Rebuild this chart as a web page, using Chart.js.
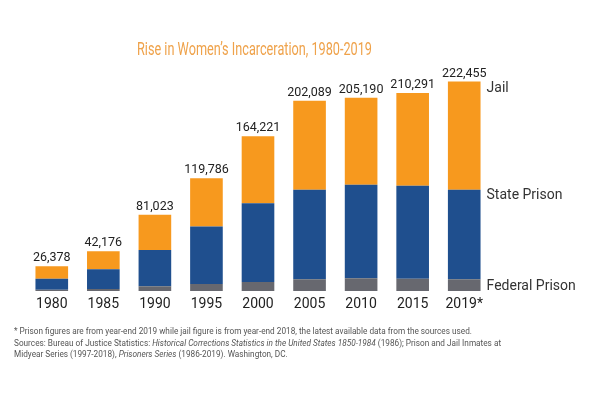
<!DOCTYPE html>
<html lang="en">
<head>
    <meta charset="UTF-8">
    <title>Rise in Women's Incarceration, 1980-2019</title>
    <script src="https://cdn.jsdelivr.net/npm/chart.js"></script>
    <style>
        html, body { margin: 0; padding: 0; background: #fff; }
        .wrap { position: relative; width: 600px; height: 400px; }
        .note {
            position: absolute; left: 14px; top: 325px; width: 680px;
            font-family: Roboto, sans-serif; font-size: 9.8px; line-height: 11.7px; color: #555;
            transform: scaleX(0.84); transform-origin: left top; white-space: nowrap;
        }
    </style>
</head>
<body>
    <div class="wrap">
        <canvas id="chart" width="600" height="400"></canvas>
        <div class="note">
            * Prison figures are from year-end 2019 while jail figure is from year-end 2018, the latest available data from the sources used.<br>
            Sources: Bureau of Justice Statistics: <i>Historical Corrections Statistics in the United States 1850-1984</i> (1986); Prison and Jail Inmates at<br>
            Midyear Series (1997-2018), <i>Prisoners Series</i> (1986-2019). Washington, DC.
        </div>
    </div>

    <script>
        // data
        const years = ['1980', '1985', '1990', '1995', '2000', '2005', '2010', '2015', '2019*'];
        const federal = [1400, 2100, 5000, 7400, 9600, 12400, 13500, 13000, 12600];
        const state = [11700, 21000, 38600, 61000, 83600, 95000, 99200, 98900, 94800];
        const jail = [13278, 19076, 37423, 51386, 71021, 94689, 92490, 98391, 115055];
        const seriesNames = ['Federal Prison', 'State Prison', 'Jail'];

        const colors = ['#67686f', '#1f4f8e', '#f7991e'];

        // totals on top, series names at the right, year labels below
        const textPlugin = {
            id: 'texts',
            afterDatasetsDraw(chart) {
                const ctx = chart.ctx;
                const x = chart.scales.x;
                const y = chart.scales.y;
                ctx.save();

                // title, narrow like the original
                ctx.font = '18px Roboto';
                ctx.fillStyle = '#efa24a';
                ctx.textAlign = 'center';
                ctx.textBaseline = 'middle';
                const title = "Rise in Women\u2019s Incarceration, 1980-2019";
                const w = ctx.measureText(title).width;
                ctx.save();
                ctx.translate(254.5, 50);
                ctx.scale(235 / w, 1);
                ctx.fillText(title, 0, 0);
                ctx.restore();

                ctx.fillStyle = '#222';
                years.forEach((yr, i) => {
                    const cx = x.getPixelForValue(i);
                    const total = federal[i] + state[i] + jail[i];
                    ctx.font = '12.5px Roboto';
                    ctx.textBaseline = 'alphabetic';
                    ctx.fillText(total.toLocaleString('en-US'), cx, y.getPixelForValue(total) - 5);
                    ctx.font = '14px Roboto';
                    ctx.textBaseline = 'middle';
                    ctx.fillText(yr, cx, 304);
                });

                // series names next to the last bar
                const last = years.length - 1;
                const meta = chart.getDatasetMeta(2).data[last];
                const lx = meta.x + meta.width / 2 + 6;
                ctx.textAlign = 'left';
                ctx.textBaseline = 'middle';
                ctx.font = '14px Roboto';
                ctx.fillStyle = '#333';
                ctx.fillText(seriesNames[2], lx, 88);
                ctx.fillText(seriesNames[1], lx, 195);
                ctx.fillText(seriesNames[0], lx, 286);
                ctx.restore();
            }
        };

        new Chart(document.getElementById('chart'), {
            type: 'bar',
            data: {
                labels: years,
                datasets: [
                    { label: seriesNames[0], data: federal, backgroundColor: colors[0] },
                    { label: seriesNames[1], data: state, backgroundColor: colors[1] },
                    { label: seriesNames[2], data: jail, backgroundColor: colors[2] }
                ]
            },
            options: {
                responsive: false,
                animation: false,
                layout: { padding: { top: 65, bottom: 109, left: 26, right: 110 } },
                datasets: { bar: { categoryPercentage: 1, barPercentage: 0.633 } },
                plugins: { legend: { display: false }, tooltip: { enabled: false } },
                scales: {
                    x: { stacked: true, display: false },
                    y: { stacked: true, display: false, min: 0, max: 240000 }
                }
            },
            plugins: [textPlugin]
        });
    </script>
</body>
</html>
